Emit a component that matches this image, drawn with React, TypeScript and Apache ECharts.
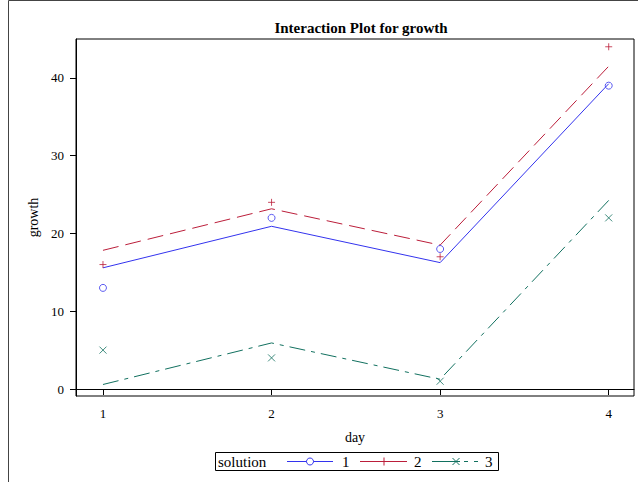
import React, { useEffect, useRef } from "react";
import * as echarts from "echarts";

const days = [1, 2, 3, 4];
const solutionNames = ["1", "2", "3"];
// observed values (markers)
const obs1 = [13, 22, 18, 39];
const obs2 = [16, 24, 17, 44];
const obs3 = [5, 4, 1, 22];
// fitted values (lines)
const fit1 = [15.58, 20.92, 16.25, 39.25];
const fit2 = [17.83, 23.17, 18.5, 41.5];
const fit3 = [0.58, 5.92, 1.25, 24.25];
const xTicks = [1, 2, 3, 4];
const yTicks = [0, 10, 20, 30, 40];

const BLUE = "#3333EE";
const RED = "#BB1E3A";
const GREEN = "#11705F";
const FONT = "'Liberation Serif', 'DejaVu Serif', serif";

const PLUS = "path://M5,0L5,10M0,5L10,5";
const CROSS = "path://M0,0L10,10M10,0L0,10";

function pairs(vals: number[]) {
  return days.map((d, i) => [d, vals[i]]);
}

// legend key geometry (line start, line end, marker centre, label left)
const LEG_Y = 461.5;
const legendKeys = [
  { x0: 287, x1: 333, mx: 310, tx: 342, dash: null as any },
  { x0: 360, x1: 407, mx: 384, tx: 414, dash: null as any },
  { x0: 432, x1: 478, mx: 456, tx: 485, dash: [28, 4, 4, 6, 4, 4] },
];

export default function App() {
  const ref = useRef<HTMLDivElement>(null);
  useEffect(() => {
    if (!ref.current) return;
    const chart = echarts.init(ref.current, null, { renderer: "svg" });
    const specs = [
      { name: solutionNames[0], color: BLUE, fit: fit1, obs: obs1, sym: "circle", dash: "solid" as any },
      { name: solutionNames[1], color: RED, fit: fit2, obs: obs2, sym: PLUS, dash: [16, 7] },
      { name: solutionNames[2], color: GREEN, fit: fit3, obs: obs3, sym: CROSS, dash: [16, 6, 4, 6] },
    ];
    const lineSeries = specs.map((s) => ({
      type: "line",
      name: s.name,
      data: pairs(s.fit),
      symbol: "none",
      color: s.color,
      lineStyle: { color: s.color, width: 1, type: s.dash },
      z: 2,
    }));
    const scatterSeries = specs.map((s) => ({
      type: "scatter",
      name: s.name,
      data: pairs(s.obs),
      symbol: s.sym,
      symbolSize: 7,
      itemStyle: { color: "none", borderColor: s.color, borderWidth: 1 },
      z: 3,
    }));

    const legendGraphics: any[] = [];
    specs.forEach((s, i) => {
      const k = legendKeys[i];
      legendGraphics.push({
        type: "line",
        shape: { x1: k.x0, y1: LEG_Y, x2: k.x1, y2: LEG_Y },
        style: { stroke: s.color, lineWidth: 1, lineDash: k.dash || undefined },
        silent: true,
      });
      if (i === 0) {
        legendGraphics.push({
          type: "circle",
          shape: { cx: k.mx, cy: LEG_Y, r: 3.5 },
          style: { fill: "#fff", stroke: s.color, lineWidth: 1 },
          silent: true,
        });
      } else if (i === 1) {
        legendGraphics.push({
          type: "line",
          shape: { x1: k.mx, y1: LEG_Y - 4, x2: k.mx, y2: LEG_Y + 4 },
          style: { stroke: s.color, lineWidth: 1 },
          silent: true,
        });
      } else {
        legendGraphics.push(
          {
            type: "line",
            shape: { x1: k.mx - 3.5, y1: LEG_Y - 3.5, x2: k.mx + 3.5, y2: LEG_Y + 3.5 },
            style: { stroke: s.color, lineWidth: 1 },
            silent: true,
          },
          {
            type: "line",
            shape: { x1: k.mx - 3.5, y1: LEG_Y + 3.5, x2: k.mx + 3.5, y2: LEG_Y - 3.5 },
            style: { stroke: s.color, lineWidth: 1 },
            silent: true,
          }
        );
      }
      legendGraphics.push({
        type: "text",
        x: k.tx,
        y: LEG_Y,
        style: { text: s.name, font: `15px ${FONT}`, fill: "#000", verticalAlign: "middle" },
        silent: true,
      });
    });

    chart.setOption({
      animation: false,
      backgroundColor: "#fff",
      textStyle: { fontFamily: FONT },
      title: {
        text: "Interaction Plot for growth",
        left: 356,
        top: 15,
        textAlign: "center",
        textStyle: { fontFamily: FONT, fontSize: 15, fontWeight: "bold", color: "#000" },
      },
      grid: {
        left: 76,
        right: 4,
        top: 39,
        bottom: 86,
        show: true,
        borderColor: "#000",
        borderWidth: 1,
        backgroundColor: "transparent",
      },
      xAxis: {
        type: "value",
        min: 0.84,
        max: 4.15,
        name: "day",
        nameLocation: "middle",
        nameGap: 34,
        nameTextStyle: { fontFamily: FONT, fontSize: 14, color: "#000" },
        axisLine: { lineStyle: { color: "#000", width: 1 } },
        axisTick: { show: true, length: 6, customValues: xTicks, lineStyle: { color: "#000" } },
        axisLabel: { customValues: xTicks, fontFamily: FONT, fontSize: 13, color: "#000", margin: 11 },
        splitLine: { show: false },
      },
      yAxis: {
        type: "value",
        min: -0.9,
        max: 45,
        name: "growth",
        nameLocation: "middle",
        nameGap: 36,
        nameTextStyle: { fontFamily: FONT, fontSize: 14, color: "#000" },
        axisLine: { show: true, lineStyle: { color: "#000", width: 1 } },
        axisTick: { show: true, length: 6, customValues: yTicks, lineStyle: { color: "#000" } },
        axisLabel: { customValues: yTicks, fontFamily: FONT, fontSize: 13, color: "#000", margin: 12 },
        splitLine: { show: false },
      },
      graphic: [
        {
          type: "rect",
          shape: { x: 8.5, y: 0.5, width: 700, height: 600 },
          style: { fill: "none", stroke: "#444", lineWidth: 1 },
          silent: true,
          z: -10,
        },
        {
          type: "rect",
          shape: { x: 215.5, y: 452.5, width: 283, height: 18 },
          style: { fill: "none", stroke: "#000", lineWidth: 1 },
          silent: true,
        },
        {
          type: "text",
          x: 218,
          y: LEG_Y,
          style: { text: "solution", font: `15px ${FONT}`, fill: "#000", verticalAlign: "middle" },
          silent: true,
        },
        ...legendGraphics,
      ],
      series: [...lineSeries, ...scatterSeries],
    });
    return () => chart.dispose();
  }, []);
  return (
    <div
      ref={ref}
      style={{ position: "fixed", left: 0, top: 0, width: 638, height: 482, background: "#fff" }}
    />
  );
}
